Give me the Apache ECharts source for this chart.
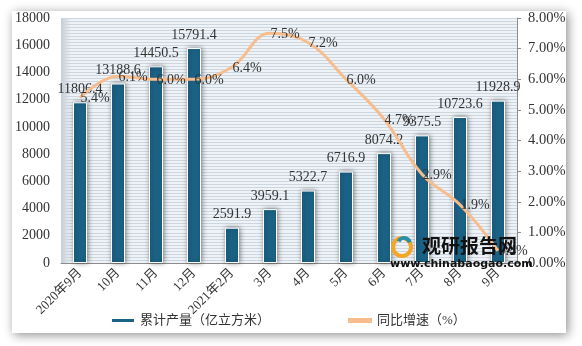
<!DOCTYPE html>
<html><head><meta charset="utf-8">
<script src="https://cdn.jsdelivr.net/npm/echarts@6/dist/echarts.min.js"></script>
<style>html,body{margin:0;padding:0;background:#fff;}#c{width:582px;height:346px;}</style>
</head><body><div id="c"></div>
<script>
const categories = ['2020年9月','10月','11月','12月','2021年2月','3月','4月','5月','6月','7月','8月','9月'];
const output = [11806.4, 13188.6, 14450.5, 15791.4, 2591.9, 3959.1, 5322.7, 6716.9, 8074.2, 9375.5, 10723.6, 11928.9];
const growth = [5.4, 6.1, 6.0, 6.0, 6.4, 7.5, 7.2, 6.0, 4.7, 2.9, 1.9, 0.4];
const leftTicks = {min: 0, max: 18000, interval: 2000};
const rightTicks = {min: 0, max: 8, interval: 1};
const seriesNames = ['累计产量（亿立方米）', '同比增速（%）'];

const FONT = '"Liberation Serif", "Noto Sans CJK SC", serif';
const chart = echarts.init(document.getElementById('c'));
chart.setOption({
  animation: false,
  backgroundColor: '#ffffff',
  graphic: [
    {type: 'rect', z: -10, shape: {x: 12, y: 11, width: 554, height: 322},
     style: {fill: '#fff', shadowBlur: 10, shadowColor: 'rgba(0,0,0,0.45)', shadowOffsetX: 2, shadowOffsetY: 2}},
    {type: 'rect', z: 0, shape: {x: 61, y: 18, width: 10, height: 245},
     style: {fill: new echarts.graphic.LinearGradient(0,0,1,0,[{offset:0,color:'rgba(120,130,140,0.35)'},{offset:1,color:'rgba(120,130,140,0)'}])}},
    {type: 'group', zlevel: 5, z: 100, children: [
      {type: 'circle', zlevel: 5, shape: {cx: 402, cy: 247, r: 9}, style: {fill: 'none', stroke: '#f5a623', lineWidth: 4}},
      {type: 'arc', zlevel: 5, shape: {cx: 404, cy: 244, r: 6, startAngle: 3.6, endAngle: 6.0}, style: {stroke: '#2a8fa8', lineWidth: 4, fill: 'none'}},
      {type: 'text', zlevel: 5, style: {x: 422, y: 246, text: '观研报告网', fill: '#111111', font: 'bold 19px "Noto Sans CJK SC"', verticalAlign: 'middle'}},
      {type: 'text', zlevel: 5, style: {x: 390, y: 264, text: 'www.chinabaogao.com', fill: '#111111', font: 'bold 11px "DejaVu Sans"', verticalAlign: 'middle'}}
    ]}
  ],
  grid: {left: 61, right: 65, top: 18, bottom: 83, show: true, backgroundColor: '#eef3f8', borderWidth: 0},
  legend: {
    bottom: 14, left: 105, itemGap: 78, itemWidth: 24, itemHeight: 5,
    textStyle: {fontFamily: FONT, fontSize: 13, color: '#333'},
    data: [
      {name: seriesNames[0], icon: 'rect'},
      {name: seriesNames[1], icon: 'rect', itemStyle: {color: '#f7bd8c'}}
    ]
  },
  xAxis: {
    type: 'category', data: categories,
    axisLine: {lineStyle: {color: '#8c8c8c', width: 1}},
    axisTick: {show: false},
    axisLabel: {rotate: 45, interval: 0, fontFamily: FONT, fontSize: 13, color: '#333', margin: 8}
  },
  yAxis: [
    {type: 'value', min: leftTicks.min, max: leftTicks.max, interval: leftTicks.interval,
     axisLine: {show: false}, axisTick: {show: false}, splitLine: {show: false},
     axisLabel: {fontFamily: FONT, fontSize: 14, color: '#333', margin: 11, formatter: v => String(v)}},
    {type: 'value', position: 'right', min: rightTicks.min, max: rightTicks.max, interval: rightTicks.interval,
     axisLine: {show: true, lineStyle: {color: '#8c8c8c'}}, axisTick: {show: true, length: 4, lineStyle: {color: '#8c8c8c'}},
     splitLine: {show: false},
     axisLabel: {fontFamily: FONT, fontSize: 14.5, color: '#333', margin: 11, formatter: v => v.toFixed(2) + '%'}},
    {type: 'value', min: 0, max: 81, interval: 1, show: true, position: 'left', offset: 0,
     axisLine: {show: false}, axisTick: {show: false}, axisLabel: {show: false},
     splitLine: {show: true, lineStyle: {color: '#cdd6df', width: 1}}}
  ],
  series: [
    {name: seriesNames[0], type: 'bar', data: output, barWidth: 14, yAxisIndex: 0, z: 2,
     itemStyle: {color: '#1b6386', borderColor: '#ffffff', borderWidth: 1,
                 shadowColor: 'rgba(0,0,0,0.45)', shadowBlur: 5, shadowOffsetX: 1, shadowOffsetY: 0},
     label: {show: true, position: 'top', distance: 6, fontFamily: FONT, fontSize: 14, color: '#333',
             formatter: p => p.value.toFixed(1)}},
    {name: seriesNames[1], type: 'line', data: growth, yAxisIndex: 1, smooth: 0.4,
     symbol: 'circle', symbolSize: 1, showSymbol: true, z: 3,
     lineStyle: {color: '#f7bd8c', width: 3},
     itemStyle: {color: 'rgba(0,0,0,0)'},
     label: {show: true, position: 'inside', offset: [15, 1], fontFamily: FONT, fontSize: 14, color: '#333',
             formatter: p => p.value.toFixed(1) + '%'}}
  ]
});
</script></body></html>
